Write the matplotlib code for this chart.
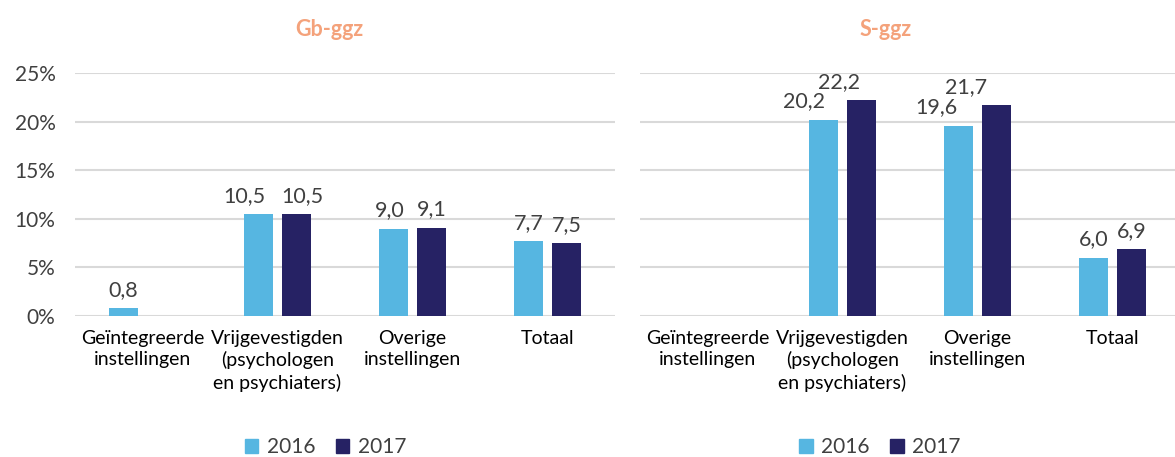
import numpy as np
import matplotlib
matplotlib.use("Agg")
import matplotlib.pyplot as plt
from matplotlib.patches import Patch

plt.rcParams['font.family'] = ['Lato', 'DejaVu Sans']

categories = ["Geïntegreerde\ninstellingen",
              "Vrijgevestigden\n(psychologen\nen psychiaters)",
              "Overige\ninstellingen",
              "Totaal"]
years = ["2016", "2017"]
titles = ["Gb-ggz", "S-ggz"]

gb_2016 = [0.8, 10.5, 9.0, 7.7]
gb_2017 = [np.nan, 10.5, 9.1, 7.5]
s_2016 = [np.nan, 20.2, 19.6, 6.0]
s_2017 = [np.nan, 22.2, 21.7, 6.9]

yticks = [0, 5, 10, 15, 20, 25]

c16 = "#56B6E1"
c17 = "#262264"
txt = "#404040"
grid = "#D9D9D9"
title_col = "#F4A27B"

# horizontal nudge (points) of value labels, like Excel spreads them
nudge_gb = [[0, -10, -3, 0], [0, 4, 0, 0]]
nudge_s = [[0, -14, -16, 0], [0, -16, -22, 0]]

fig = plt.figure(figsize=(11.75, 4.57), dpi=100)
ax1 = fig.add_axes([0.0638, 0.3085, 0.4596, 0.5317])
ax2 = fig.add_axes([0.5447, 0.3085, 0.4596, 0.5317])

x = np.arange(len(categories))
w = 0.215
off = 0.14

panels = [(ax1, gb_2016, gb_2017, titles[0], 0.277, 0.280, nudge_gb),
          (ax2, s_2016, s_2017, titles[1], 0.749, 0.754, nudge_s)]

for ax, v16, v17, title, legx, titx, nudge in panels:
    ax.set_axisbelow(True)
    ax.yaxis.grid(True, color=grid, linewidth=1.5)
    ax.bar(x - off, v16, w, color=c16)
    ax.bar(x + off, v17, w, color=c17)
    for k, (xs, vals) in enumerate([(x - off, v16), (x + off, v17)]):
        for i, (xi, v) in enumerate(zip(xs, vals)):
            if np.isnan(v):
                continue
            ax.annotate(f"{v:.1f}".replace(".", ","), (xi, v),
                        xytext=(nudge[k][i], 6),
                        textcoords="offset points", ha="center", va="bottom",
                        fontsize=15.5, color=txt, annotation_clip=False)
    ax.set_xlim(-0.5, 3.5)
    ax.set_ylim(0, 25)
    ax.set_yticks(yticks)
    ax.set_yticklabels([f"{t}%" for t in yticks], fontsize=15, color=txt)
    ax.set_xticks(x)
    ax.set_xticklabels(categories, fontsize=14, color="#000000", linespacing=1.3)
    ax.tick_params(length=0)
    ax.tick_params(axis="y", pad=14)
    ax.tick_params(axis="x", pad=10)
    for s in ax.spines.values():
        s.set_visible(False)
    fig.text(titx, 0.935, title, ha="center", va="center", fontsize=15.5,
             fontweight="bold", color=title_col)
    handles = [Patch(color=c16), Patch(color=c17)]
    fig.legend(handles, years, loc="center", bbox_to_anchor=(legx, 0.022),
               ncol=2, frameon=False, fontsize=15, handlelength=0.65,
               handleheight=0.65, handletextpad=0.4, columnspacing=1.0,
               labelcolor=txt)

ax2.set_yticklabels([])

fig.savefig("out.png", dpi=100)
